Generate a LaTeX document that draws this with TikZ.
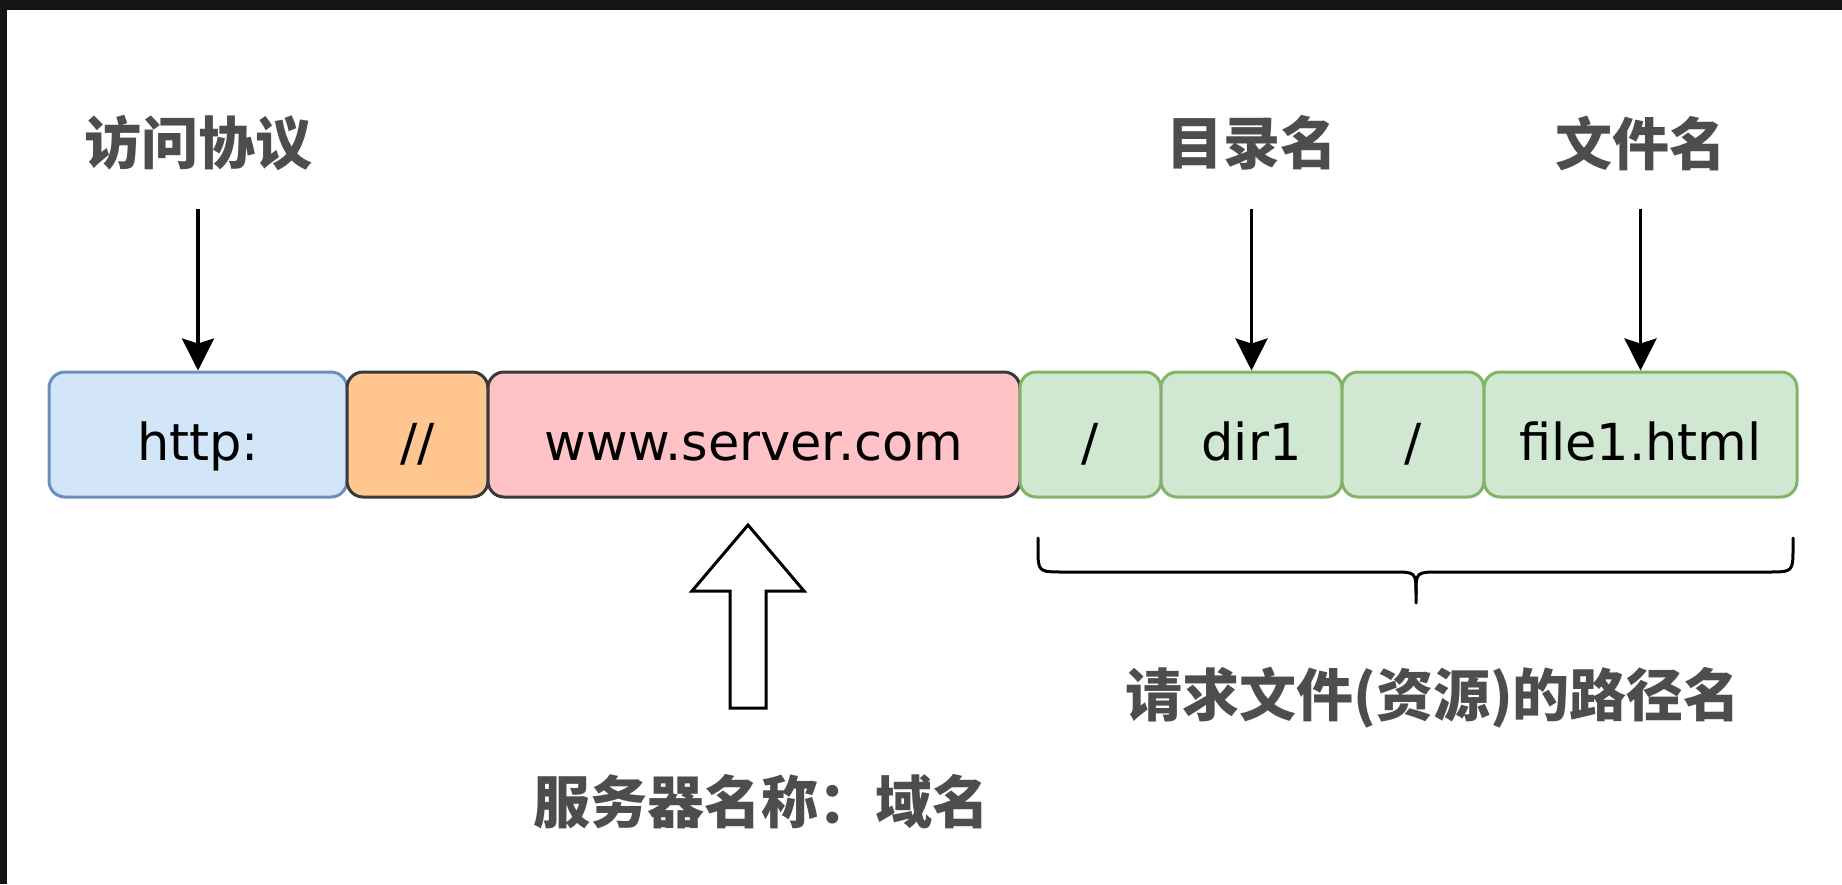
\documentclass[tikz,border=0pt]{standalone}
\usepackage{fontspec}
\newfontfamily\cjk{Noto Sans CJK SC}
\newfontfamily\boxfont{DejaVu Sans}
\usetikzlibrary{arrows.meta}
\definecolor{framebg}{HTML}{151515}
\definecolor{labelgray}{HTML}{4D4D4D}
\definecolor{bluef}{HTML}{D3E5F9}
\definecolor{blued}{HTML}{6C8EBF}
\definecolor{orangef}{HTML}{FFC78F}
\definecolor{pinkf}{HTML}{FFC2C6}
\definecolor{darkd}{HTML}{36393D}
\definecolor{greenf}{HTML}{D0E7D2}
\definecolor{greend}{HTML}{82B366}
\tikzset{
  urlbox/.style={rectangle, rounded corners=16pt, line width=3pt,
    minimum height=125pt, inner sep=0pt, text height=51pt, text depth=0pt,
    font=\boxfont\fontsize{51}{60}\selectfont, text=black},
  toplabel/.style={inner sep=0pt, font=\cjk\bfseries\fontsize{57}{64}\selectfont, text=labelgray},
  pointer/.style={line width=3.5pt, -{Stealth[width=32pt,length=32pt,inset=5pt]}, shorten <=38pt},
  outline/.style={line width=3pt, draw=black}
}
\begin{document}
\begin{tikzpicture}[x=1pt,y=-1pt]
\fill[framebg] (0,0) rectangle (1842,884);
\fill[white] (7,10) rectangle (1842,884);
\useasboundingbox (0,0) rectangle (1842,884);

% boxes
\node[urlbox, fill=bluef, draw=blued, minimum width=298pt] (http) at (198,434.5) {http:};
\node[urlbox, fill=orangef, draw=darkd, minimum width=141pt] (dslash) at (417.5,434.5) {//};
\node[urlbox, fill=pinkf, draw=darkd, minimum width=532pt] (server) at (754,434.5) {www.server.com};
\node[urlbox, fill=greenf, draw=greend, minimum width=141pt] (sl1) at (1090.5,434.5) {/};
\node[urlbox, fill=greenf, draw=greend, minimum width=181pt] (dir) at (1251.5,434.5) {dir1};
\node[urlbox, fill=greenf, draw=greend, minimum width=142pt] (sl2) at (1413,434.5) {/};
\node[urlbox, fill=greenf, draw=greend, minimum width=313pt] (file) at (1640.5,434.5) {file1.html};

% top labels
\node[toplabel] (proto) at (198,143) {访问协议};
\node[toplabel] (dirlbl) at (1251.5,143) {目录名};
\node[toplabel] (filelbl) at (1640.5,143) {文件名};

\draw[pointer] (proto.south) -- (http.north);
\draw[pointer] (dirlbl.south) -- (dir.north);
\draw[pointer] (filelbl.south) -- (file.north);

% block arrow
\draw[outline, fill=white] (748,525) -- (804,591) -- (766,591) -- (766,708)
  -- (730,708) -- (730,591) -- (692,591) -- cycle;
\node[toplabel] (srvlbl) at (761,802) {服务器名称：域名};

% brace
\coordinate (bl) at (1038,538);
\coordinate (br) at (1793,538);
\coordinate (bt) at (1416,603);
\draw[outline, line cap=round, line join=round]
  (bl) -- (1038,548) .. controls (1038,572) .. (1064,572) -- (1392,572)
  .. controls (1416,572) .. (bt |- 0,594) -- (bt);
\draw[outline, line cap=round, line join=round]
  (br) -- (1793,548) .. controls (1793,572) .. (1767,572) -- (1440,572)
  .. controls (1416,572) .. (bt |- 0,594);
\node[toplabel] (pathlbl) at (1433,698) {请求文件(资源)的路径名};
\end{tikzpicture}
\end{document}
